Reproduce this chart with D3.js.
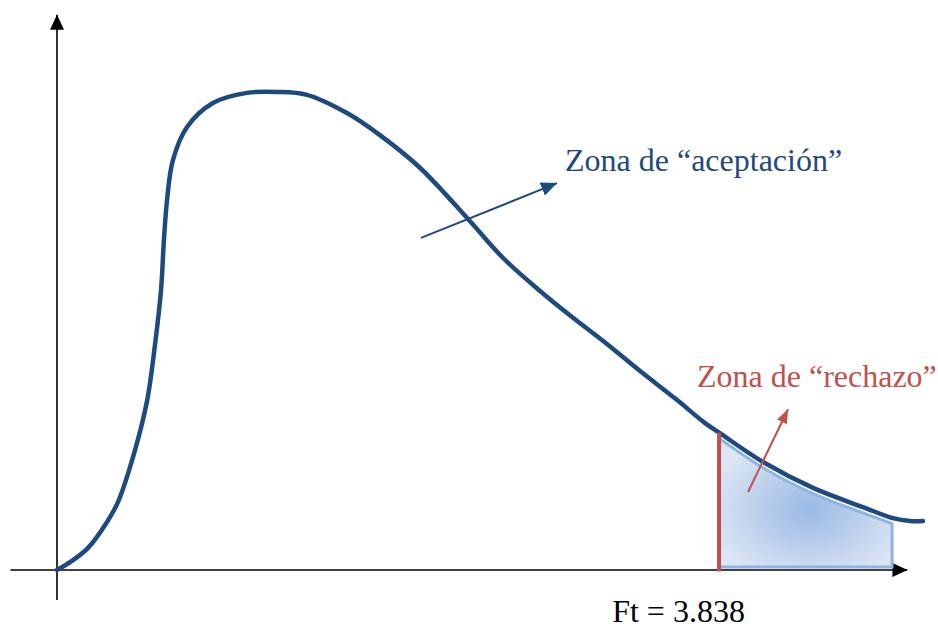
<!DOCTYPE html>
<html>
<head>
<meta charset="utf-8">
<script src="https://cdn.jsdelivr.net/npm/d3@7"></script>
<style>
  html, body { margin: 0; padding: 0; background: #fff; }
  svg { display: block; }
</style>
</head>
<body>
<svg id="chart"></svg>
<script>
const width = 938
const height = 628

// F distribution sketch (x in F units, y as relative density)
const curveX = [0, 0.087, 0.180, 0.290, 0.354, 0.446, 0.522, 0.568, 0.603, 0.620, 0.638, 0.672, 0.754, 0.904,
  1.101, 1.275, 1.449, 1.681, 1.872, 2.104, 2.388, 2.586, 2.788, 2.986, 3.188, 3.386, 3.588, 3.757,
  3.843, 4.093, 4.383, 4.672, 4.846, 4.945, 5.020]
const curveY = [0, 0.019, 0.046, 0.100, 0.142, 0.242, 0.352, 0.469, 0.583, 0.688, 0.771, 0.854, 0.923, 0.973,
  0.994, 0.996, 0.990, 0.952, 0.906, 0.838, 0.729, 0.650, 0.585, 0.527, 0.471, 0.413, 0.356, 0.306,
  0.285, 0.225, 0.171, 0.131, 0.108, 0.102, 0.102]

const ft = 3.838
const ftLabel = "Ft = 3.838"
const shadeEnd = 4.841
const labels = ["Zona de \u201caceptaci\u00f3n\u201d", "Zona de \u201crechazo\u201d"]

const blue = "#1f4a80"
const red = "#c0504d"

// scales: 0 sits on the axes crossing
const x = d3.scaleLinear().domain([0, 5]).range([57, 919.5])
const y = d3.scaleLinear().domain([0, 1]).range([570, 90])

// piecewise reading of the curve, used for the shaded zone edges
const interp = d3.scaleLinear().domain(curveX).range(curveY)

const svg = d3.select("#chart").attr("width", width).attr("height", height)
const defs = svg.append("defs")

function arrowMarker(id, color, w, h) {
  defs.append("marker")
    .attr("id", id)
    .attr("viewBox", `0 ${-h / 2} ${w} ${h}`)
    .attr("refX", w).attr("refY", 0)
    .attr("markerWidth", w).attr("markerHeight", h)
    .attr("markerUnits", "userSpaceOnUse")
    .attr("orient", "auto")
    .append("path")
    .attr("d", `M0,${-h / 2}L${w},0L0,${h / 2}Z`)
    .attr("fill", color)
}
arrowMarker("axis-head", "#000", 15, 14)
arrowMarker("blue-head", blue, 16, 14)
arrowMarker("red-head", red, 14, 11)

const grad = defs.append("radialGradient").attr("id", "shade")
  .attr("cx", 0.52).attr("cy", 0.55).attr("r", 0.6)
grad.append("stop").attr("offset", "0%").attr("stop-color", "#9ab9e6")
grad.append("stop").attr("offset", "100%").attr("stop-color", "#dde6f4")

// axes
svg.append("line")
  .attr("x1", x(-0.27)).attr("y1", y(0)).attr("x2", x(4.93)).attr("y2", y(0))
  .attr("stroke", "#000").attr("stroke-width", 1.6)
  .attr("marker-end", "url(#axis-head)")
svg.append("line")
  .attr("x1", x(0)).attr("y1", y(-0.0625)).attr("x2", x(0)).attr("y2", y(1.157))
  .attr("stroke", "#000").attr("stroke-width", 1.6)
  .attr("marker-end", "url(#axis-head)")

// rejection zone
const shadePts = [[ft, interp(ft)]]
  .concat(curveX.map((v, i) => [v, curveY[i]]).filter(d => d[0] > ft && d[0] < shadeEnd))
  .concat([[shadeEnd, interp(shadeEnd)]])

const area = d3.area()
  .x(d => x(d[0]))
  .y0(y(0.006))
  .y1(d => y(d[1] - 0.012))
  .curve(d3.curveMonotoneX)

svg.append("path")
  .datum(shadePts)
  .attr("d", area)
  .attr("fill", "url(#shade)")
  .attr("stroke", "#8db4e4")
  .attr("stroke-width", 3)
  .attr("stroke-linejoin", "round")

// density curve
const line = d3.line()
  .x((d, i) => x(curveX[i]))
  .y(d => y(d))
  .curve(d3.curveCatmullRom.alpha(0.5))

svg.append("path")
  .datum(curveY)
  .attr("d", line)
  .attr("fill", "none")
  .attr("stroke", blue)
  .attr("stroke-width", 4.5)
  .attr("stroke-linecap", "round")

// critical value
svg.append("line")
  .attr("x1", x(ft)).attr("x2", x(ft))
  .attr("y1", y(-0.003)).attr("y2", y(interp(ft)))
  .attr("stroke", red).attr("stroke-width", 4)

// annotation arrows
svg.append("line")
  .attr("x1", x(2.110)).attr("y1", y(0.692)).attr("x2", x(2.899)).attr("y2", y(0.806))
  .attr("stroke", blue).attr("stroke-width", 2)
  .attr("marker-end", "url(#blue-head)")
svg.append("line")
  .attr("x1", x(4.006)).attr("y1", y(0.1625)).attr("x2", x(4.238)).attr("y2", y(0.335))
  .attr("stroke", red).attr("stroke-width", 2)
  .attr("marker-end", "url(#red-head)")

// texts
const font = "'Liberation Serif', 'Times New Roman', serif"
svg.append("text")
  .attr("x", x(2.945)).attr("y", y(0.831))
  .attr("font-family", font).attr("font-size", 32).attr("fill", blue)
  .text(labels[0])
svg.append("text")
  .attr("x", x(3.710)).attr("y", y(0.381))
  .attr("font-family", font).attr("font-size", 32).attr("fill", red)
  .text(labels[1])
svg.append("text")
  .attr("x", x(3.603)).attr("y", y(-0.108))
  .attr("text-anchor", "middle")
  .attr("font-family", font).attr("font-size", 32).attr("fill", "#000")
  .text(ftLabel)
</script>
</body>
</html>
